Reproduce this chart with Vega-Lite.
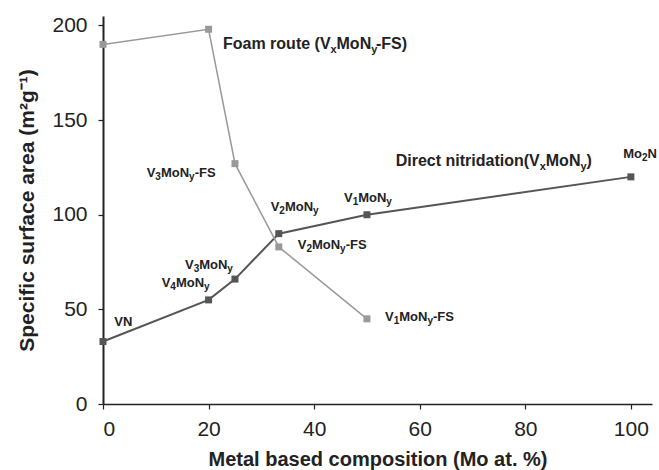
{
  "$schema": "https://vega.github.io/schema/vega-lite/v6.json",
  "autosize": "none",
  "padding": {"left": 103, "top": 16, "right": 7, "bottom": 66},
  "width": 549,
  "height": 388,
  "background": "white",
  "config": {"view": {"stroke": null}, "axis": {"grid": false}},
  "datasets": {
    "series": [
      {"comp": 0, "area": 33, "route": "Direct"},
      {"comp": 20, "area": 55, "route": "Direct"},
      {"comp": 25, "area": 66, "route": "Direct"},
      {"comp": 33.3, "area": 90, "route": "Direct"},
      {"comp": 50, "area": 100, "route": "Direct"},
      {"comp": 100, "area": 120, "route": "Direct"},
      {"comp": 0, "area": 190, "route": "Foam"},
      {"comp": 20, "area": 198, "route": "Foam"},
      {"comp": 25, "area": 127, "route": "Foam"},
      {"comp": 33.3, "area": 83, "route": "Foam"},
      {"comp": 50, "area": 45, "route": "Foam"}
    ],
    "seg": [
      {"grp": "big", "part": "main", "x": 22.73, "y": 187.41, "t": "Foam route (V"},
      {"grp": "big", "part": "sub", "x": 43.08, "y": 187.41, "t": "x"},
      {"grp": "big", "part": "main", "x": 44.24, "y": 187.41, "t": "MoN"},
      {"grp": "big", "part": "sub", "x": 50.81, "y": 187.41, "t": "y"},
      {"grp": "big", "part": "main", "x": 51.7, "y": 187.41, "t": "-FS)"},
      {"grp": "big", "part": "main", "x": 55.45, "y": 125.9, "t": "Direct nitridation(V"},
      {"grp": "big", "part": "sub", "x": 82.72, "y": 125.9, "t": "x"},
      {"grp": "big", "part": "main", "x": 83.88, "y": 125.9, "t": "MoN"},
      {"grp": "big", "part": "sub", "x": 90.45, "y": 125.9, "t": "y"},
      {"grp": "big", "part": "main", "x": 91.6, "y": 125.9, "t": ")"},

      {"grp": "small", "part": "main", "x": 8.28, "y": 120.09, "t": "V"},
      {"grp": "small", "part": "sub", "x": 9.92, "y": 120.09, "t": "3"},
      {"grp": "small", "part": "main", "x": 10.97, "y": 120.09, "t": "MoN"},
      {"grp": "small", "part": "sub", "x": 16.31, "y": 120.09, "t": "y"},
      {"grp": "small", "part": "main", "x": 17.36, "y": 120.09, "t": "-FS"},

      {"grp": "small", "part": "main", "x": 31.77, "y": 101.71, "t": "V"},
      {"grp": "small", "part": "sub", "x": 33.41, "y": 101.71, "t": "2"},
      {"grp": "small", "part": "main", "x": 34.46, "y": 101.71, "t": "MoN"},
      {"grp": "small", "part": "sub", "x": 39.8, "y": 101.71, "t": "y"},

      {"grp": "small", "part": "main", "x": 36.88, "y": 81.74, "t": "V"},
      {"grp": "small", "part": "sub", "x": 38.53, "y": 81.74, "t": "2"},
      {"grp": "small", "part": "main", "x": 39.58, "y": 81.74, "t": "MoN"},
      {"grp": "small", "part": "sub", "x": 44.91, "y": 81.74, "t": "y"},
      {"grp": "small", "part": "main", "x": 45.97, "y": 81.74, "t": "-FS"},

      {"grp": "small", "part": "main", "x": 45.65, "y": 106.89, "t": "V"},
      {"grp": "small", "part": "sub", "x": 47.3, "y": 106.89, "t": "1"},
      {"grp": "small", "part": "main", "x": 48.35, "y": 106.89, "t": "MoN"},
      {"grp": "small", "part": "sub", "x": 53.68, "y": 106.89, "t": "y"},

      {"grp": "small", "part": "main", "x": 53.42, "y": 43.85, "t": "V"},
      {"grp": "small", "part": "sub", "x": 55.06, "y": 43.85, "t": "1"},
      {"grp": "small", "part": "main", "x": 56.12, "y": 43.85, "t": "MoN"},
      {"grp": "small", "part": "sub", "x": 61.45, "y": 43.85, "t": "y"},
      {"grp": "small", "part": "main", "x": 62.5, "y": 43.85, "t": "-FS"},

      {"grp": "small", "part": "main", "x": 15.53, "y": 71.17, "t": "V"},
      {"grp": "small", "part": "sub", "x": 17.18, "y": 71.17, "t": "3"},
      {"grp": "small", "part": "main", "x": 18.23, "y": 71.17, "t": "MoN"},
      {"grp": "small", "part": "sub", "x": 23.56, "y": 71.17, "t": "y"},

      {"grp": "small", "part": "main", "x": 11.12, "y": 61.97, "t": "V"},
      {"grp": "small", "part": "sub", "x": 12.76, "y": 61.97, "t": "4"},
      {"grp": "small", "part": "main", "x": 13.82, "y": 61.97, "t": "MoN"},
      {"grp": "small", "part": "sub", "x": 19.15, "y": 61.97, "t": "y"},

      {"grp": "small", "part": "main", "x": 2.14, "y": 41.21, "t": "VN"},

      {"grp": "small", "part": "main", "x": 98.56, "y": 129.82, "t": "Mo"},
      {"grp": "small", "part": "sub", "x": 102.12, "y": 129.82, "t": "2"},
      {"grp": "small", "part": "main", "x": 103.17, "y": 129.82, "t": "N"}
    ]
  },
  "layer": [
    {
      "data": {"name": "series"},
      "mark": {"type": "line"},
      "encoding": {
        "x": {
          "field": "comp", "type": "quantitative",
          "scale": {"domain": [0, 104], "nice": false},
          "axis": {
            "values": [0, 20, 40, 60, 80, 100],
            "title": "Metal based composition (Mo at. %)",
            "titleFont": "Liberation Sans", "titleFontSize": 20, "titleFontWeight": "bold", "titleColor": "#222",
            "titlePadding": 10,
            "labelFont": "Liberation Sans", "labelFontSize": 21, "labelColor": "#222", "labelPadding": 9,
            "tickSize": 5, "tickColor": "#222", "domainColor": "#222", "domainWidth": 1.5, "tickWidth": 1.2
          }
        },
        "y": {
          "field": "area", "type": "quantitative",
          "scale": {"domain": [0, 205], "nice": false},
          "axis": {
            "values": [0, 50, 100, 150, 200],
            "title": "Specific surface area (m²g⁻¹)",
            "titleFont": "Liberation Sans", "titleFontSize": 21, "titleFontWeight": "bold", "titleColor": "#222",
            "titlePadding": 14,
            "labelFont": "Liberation Sans", "labelFontSize": 21, "labelColor": "#222", "labelPadding": 11,
            "tickSize": 5, "tickColor": "#222", "domainColor": "#222", "domainWidth": 2, "tickWidth": 1.2
          }
        },
        "color": {"field": "route", "type": "nominal", "scale": {"domain": ["Direct", "Foam"], "range": ["#555555", "#999999"]}, "legend": null},
        "strokeWidth": {"field": "route", "type": "nominal", "scale": {"domain": ["Direct", "Foam"], "range": [2, 1.5]}, "legend": null}
      }
    },
    {
      "data": {"name": "series"},
      "mark": {"type": "point", "shape": "square", "filled": true, "size": 49, "opacity": 1},
      "encoding": {
        "x": {"field": "comp", "type": "quantitative"},
        "y": {"field": "area", "type": "quantitative"},
        "color": {"field": "route", "type": "nominal", "legend": null}
      }
    },
    {
      "data": {"name": "seg"},
      "transform": [{"filter": "datum.grp === 'big' && datum.part === 'main'"}],
      "mark": {"type": "text", "font": "Liberation Sans", "fontWeight": "bold", "fontSize": 16, "align": "left", "baseline": "alphabetic", "color": "#222"},
      "encoding": {
        "x": {"field": "x", "type": "quantitative"},
        "y": {"field": "y", "type": "quantitative"},
        "text": {"field": "t"}
      }
    },
    {
      "data": {"name": "seg"},
      "transform": [{"filter": "datum.grp === 'big' && datum.part === 'sub'"}],
      "mark": {"type": "text", "font": "Liberation Sans", "fontWeight": "bold", "fontSize": 11, "align": "left", "baseline": "alphabetic", "dy": 4, "color": "#222"},
      "encoding": {
        "x": {"field": "x", "type": "quantitative"},
        "y": {"field": "y", "type": "quantitative"},
        "text": {"field": "t"}
      }
    },
    {
      "data": {"name": "seg"},
      "transform": [{"filter": "datum.grp === 'small' && datum.part === 'main'"}],
      "mark": {"type": "text", "font": "Liberation Sans", "fontWeight": "bold", "fontSize": 13, "align": "left", "baseline": "alphabetic", "color": "#222"},
      "encoding": {
        "x": {"field": "x", "type": "quantitative"},
        "y": {"field": "y", "type": "quantitative"},
        "text": {"field": "t"}
      }
    },
    {
      "data": {"name": "seg"},
      "transform": [{"filter": "datum.grp === 'small' && datum.part === 'sub'"}],
      "mark": {"type": "text", "font": "Liberation Sans", "fontWeight": "bold", "fontSize": 10, "align": "left", "baseline": "alphabetic", "dy": 3, "color": "#222"},
      "encoding": {
        "x": {"field": "x", "type": "quantitative"},
        "y": {"field": "y", "type": "quantitative"},
        "text": {"field": "t"}
      }
    }
  ]
}
